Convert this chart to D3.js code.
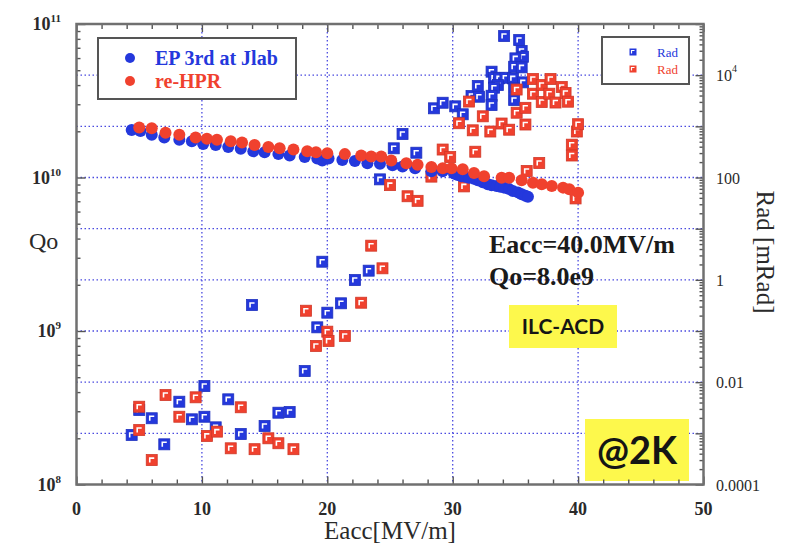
<!DOCTYPE html>
<html>
<head>
<meta charset="utf-8">
<script src="https://cdn.jsdelivr.net/npm/d3@7"></script>
<style>
body { margin: 0; background: #fff; }
svg { display: block; }
</style>
</head>
<body>
<svg width="789" height="545"></svg>
<script>
// Q0 vs Eacc, EP 3rd at Jlab (blue circles)
var epEacc = [4.4, 5.1, 6.0, 7.0, 8.2, 9.2, 10.1, 11.1, 12.1, 13.1, 14.1, 15.0, 16.1, 17.0, 18.2, 19.2, 19.6, 20.1, 21.2, 22.2,
  23.2, 24.2, 25.2, 26.0, 27.0, 28.3, 29.2, 30.1, 30.4, 30.7, 31.0, 31.3, 31.7, 32.0, 32.4, 32.8, 33.1, 33.5, 33.8, 34.1,
  34.5, 34.8, 35.2, 35.5, 35.8, 36.0];
var epQ = [2.04e10, 2.01e10, 1.90e10, 1.82e10, 1.76e10, 1.72e10, 1.65e10, 1.63e10, 1.58e10, 1.54e10, 1.48e10, 1.46e10, 1.42e10, 1.39e10, 1.36e10, 1.33e10, 1.29e10, 1.33e10, 1.30e10, 1.28e10,
  1.24e10, 1.23e10, 1.20e10, 1.18e10, 1.15e10, 1.10e10, 1.10e10, 1.06e10, 1.04e10, 1.02e10, 1.01e10, 9.96e9, 9.8e9, 9.58e9, 9.3e9, 9.03e9, 8.9e9, 8.81e9, 8.7e9, 8.59e9,
  8.4e9, 8.17e9, 8.0e9, 7.78e9, 7.6e9, 7.48e9];

// Q0 vs Eacc, re-HPR (red circles)
var hprEacc = [5.0, 6.0, 7.1, 8.2, 9.5, 10.4, 11.2, 12.3, 13.2, 14.2, 15.3, 16.2, 17.3, 18.4, 19.1, 20.0, 21.4, 22.7, 23.5, 24.3,
  25.1, 26.3, 27.2, 28.3, 29.2, 29.9, 30.8, 31.7, 32.5, 33.9, 34.5, 35.5, 36.4, 37.1, 37.9, 38.8, 39.3, 40.0];
var hprQ = [2.12e10, 2.09e10, 1.96e10, 1.90e10, 1.82e10, 1.79e10, 1.76e10, 1.72e10, 1.69e10, 1.63e10, 1.58e10, 1.55e10, 1.52e10, 1.48e10, 1.46e10, 1.44e10, 1.42e10, 1.39e10, 1.37e10, 1.37e10,
  1.29e10, 1.24e10, 1.21e10, 1.17e10, 1.15e10, 1.15e10, 1.13e10, 1.07e10, 1.02e10, 9.96e9, 9.96e9, 9.58e9, 9.24e9, 9.03e9, 8.81e9, 8.59e9, 8.38e9, 7.97e9];

// radiation, EP 3rd (blue squares)
var epRadEacc = [4.4, 5.0, 6.0, 7.0, 8.2, 9.2, 10.2, 10.2, 11.1, 12.1, 13.1, 14.0, 15.0, 16.1, 17.0, 18.2, 19.2, 19.6, 20.0, 21.1,
  22.2, 23.3, 24.2, 25.3, 26.0, 27.1, 28.5, 29.2, 30.2, 30.8, 31.5, 32.0, 32.1, 33.1, 33.3, 33.7, 34.2, 34.8, 35.6, 33.6,
  33.3, 33.1, 33.1, 34.9, 34.9, 34.1, 35.3, 35.5, 35.6, 35.0, 34.9, 35.5];
var epRad = [9.3e-4, 2.86e-3, 1.97e-3, 6.1e-4, 4.15e-3, 1.88e-3, 2.11e-3, 8.4e-3, 1.31e-3, 4.62e-3, 9.7e-4, 0.322, 1.39e-3, 2.53e-3, 2.61e-3, 0.0165, 0.118, 2.26, 0.228, 0.348,
  0.99, 1.51, 92, 372, 708, 305, 2250, 2890, 2460, 1720, 3910, 6140, 3790, 11700, 8900, 8670, 8900, 8670, 7240, 6420,
  5690, 3960, 2610, 3270, 5530, 58200, 48600, 29600, 22900, 21300, 14600, 14200];

// radiation, re-HPR (red squares)
var hprRadEacc = [5.0, 5.0, 6.0, 7.1, 8.2, 9.5, 10.4, 11.2, 12.3, 13.1, 14.2, 15.3, 16.1, 17.3, 18.3, 19.1, 20.0, 20.1, 21.4, 22.7,
  23.5, 24.4, 25.0, 26.4, 27.2, 28.3, 29.2, 29.8, 30.5, 30.9, 31.3, 31.6, 31.8, 32.4, 33.0, 33.9, 34.5, 35.1, 35.1, 35.8,
  35.8, 35.9, 36.4, 36.4, 36.9, 37.1, 37.1, 37.8, 37.7, 38.2, 38.7, 39.0, 39.2, 39.5, 39.5, 39.9, 40.0, 39.8];
var hprRad = [3.31e-3, 1.16e-3, 3.0e-4, 5.6e-3, 2.11e-3, 5.06e-3, 8.9e-4, 1.08e-3, 5.1e-4, 3.23e-3, 4.9e-4, 8.0e-4, 6.4e-4, 4.9e-4, 0.249, 0.051, 0.097, 0.064, 0.080, 0.357,
  4.65, 1.68, 71, 43, 35, 104, 352, 251, 1150, 67, 3050, 836, 319, 1570, 792, 1135, 859, 5240, 1845, 2300,
  1085, 134, 8410, 4340, 192, 6420, 2990, 8410, 4340, 2920, 5870, 4480, 3030, 438, 269, 792, 1100, 39];

var xTicks = [0, 10, 20, 30, 40, 50];
var qDecades = [1e8, 1e9, 1e10, 1e11];
var qLabels = [["10", "8"], ["10", "9"], ["10", "10"], ["10", "11"]];
var radLabelValues = [1e4, 100, 1, 0.01, 1e-4];
var radLabels = [["10", "4"], ["100", ""], ["1", ""], ["0.01", ""], ["0.0001", ""]];

var blue = "#2438dc", red = "#f0412e";
var serif = "'Liberation Serif', 'DejaVu Serif', serif";

var svg = d3.select("svg"),
    pL = 76.5, pR = 703.5, pT = 24, pB = 484.5;

var x = d3.scaleLinear().domain([0, 50]).range([pL, pR]);
var yQ = d3.scaleLog().domain([1e8, 1e11]).range([pB, pT]);
var yR = d3.scaleLog().domain([1e-4, 1e5]).range([pB, pT]);

svg.append("rect").attr("width", 789).attr("height", 545).attr("fill", "#fff");

// dotted grid
var grid = svg.append("g")
    .attr("stroke", "#4a4ae0")
    .attr("stroke-width", 1.3)
    .attr("stroke-dasharray", "1.5,2.5");
grid.selectAll("line.v").data([10, 20, 30, 40]).enter().append("line")
    .attr("x1", function(d) { return x(d); }).attr("x2", function(d) { return x(d); })
    .attr("y1", pT).attr("y2", pB);
grid.selectAll("line.h").data([1e-3, 1e-2, 1e-1, 1, 10, 100, 1e3, 1e4]).enter().append("line")
    .attr("y1", function(d) { return yR(d); }).attr("y2", function(d) { return yR(d); })
    .attr("x1", pL).attr("x2", pR);

// yellow labels
function yellowBox(bx, by, bw, bh, label, size, ty) {
  svg.append("rect").attr("x", bx).attr("y", by).attr("width", bw).attr("height", bh).attr("fill", "#fdf84c");
  svg.append("text").attr("x", bx + bw / 2).attr("y", ty)
      .attr("text-anchor", "middle")
      .attr("font-family", "Lato, 'Open Sans', sans-serif")
      .attr("font-weight", "bold")
      .attr("font-size", size)
      .attr("fill", "#151515")
      .text(label);
}
yellowBox(509, 305, 108, 43, "ILC-ACD", 21, 334);
yellowBox(585, 419, 104, 62, "@2K", 38, 464);

// squares with the little white mark
function squares(xs, ys, color) {
  var g = svg.append("g").selectAll("g")
    .data(xs.map(function(d, i) { return [d, ys[i]]; }))
    .enter().append("g")
      .attr("transform", function(d) { return "translate(" + x(d[0]) + "," + yR(d[1]) + ")"; });
  g.append("rect").attr("x", -5.5).attr("y", -5.5).attr("width", 11).attr("height", 11)
      .attr("fill", color).attr("stroke", d3.color(color).darker(0.4)).attr("stroke-width", 0.8);
  g.append("path").attr("d", "M-2,2.5V-2H2.5").attr("fill", "none").attr("stroke", "#fff").attr("stroke-width", 1.6);
}
squares(epRadEacc, epRad, blue);
squares(hprRadEacc, hprRad, red);

function dots(xs, ys, color) {
  svg.append("g").selectAll("circle")
    .data(xs.map(function(d, i) { return [d, ys[i]]; }))
    .enter().append("circle")
      .attr("cx", function(d) { return x(d[0]); })
      .attr("cy", function(d) { return yQ(d[1]); })
      .attr("r", 6)
      .attr("fill", color);
}
dots(epEacc, epQ, blue);
dots(hprEacc, hprQ, red);

// ticks, all pointing inward
function minorLog(lo, hi) {
  var out = [];
  for (var e = lo; e < hi; e++) for (var k = 2; k < 10; k++) out.push(k * Math.pow(10, e));
  return out;
}
var xMinor = d3.range(2, 50, 2).filter(function(d) { return d % 10 !== 0; });
var tickAxes = [
  [d3.axisBottom(x).tickValues(xTicks).tickSize(-8), "translate(0," + pB + ")"],
  [d3.axisBottom(x).tickValues(xMinor).tickSize(-5), "translate(0," + pB + ")"],
  [d3.axisTop(x).tickValues(xTicks).tickSize(-8), "translate(0," + pT + ")"],
  [d3.axisTop(x).tickValues(xMinor).tickSize(-5), "translate(0," + pT + ")"],
  [d3.axisLeft(yQ).tickValues(qDecades).tickSize(-9), "translate(" + pL + ",0)"],
  [d3.axisLeft(yQ).tickValues(minorLog(8, 11)).tickSize(-4), "translate(" + pL + ",0)"],
  [d3.axisRight(yR).tickValues(d3.range(-4, 6).map(function(e) { return Math.pow(10, e); })).tickSize(-8), "translate(" + pR + ",0)"],
  [d3.axisRight(yR).tickValues(minorLog(-4, 5)).tickSize(-4), "translate(" + pR + ",0)"]
];
tickAxes.forEach(function(a) {
  var g = svg.append("g").attr("transform", a[1]).call(a[0].tickFormat(""));
  g.select(".domain").remove();
  g.selectAll("line").attr("stroke", "#555").attr("stroke-width", 1.4);
});

svg.append("rect")
    .attr("x", pL).attr("y", pT)
    .attr("width", pR - pL).attr("height", pB - pT)
    .attr("fill", "none").attr("stroke", "#707070").attr("stroke-width", 2.5);

// left tick labels
qDecades.forEach(function(v, i) {
  var t = svg.append("text").attr("x", 61).attr("y", yQ(v) + 6)
      .attr("text-anchor", "end")
      .attr("font-family", serif).attr("font-weight", "bold").attr("fill", "#2a2a2a");
  t.append("tspan").attr("font-size", 18).text(qLabels[i][0]);
  t.append("tspan").attr("font-size", 11).attr("dy", -8).text(qLabels[i][1]);
});

// right tick labels
radLabelValues.forEach(function(v, i) {
  var t = svg.append("text").attr("x", 716).attr("y", yR(v) + 6)
      .attr("font-family", serif).attr("fill", "#2a2a2a");
  t.append("tspan").attr("font-size", 16).text(radLabels[i][0]);
  if (radLabels[i][1]) t.append("tspan").attr("font-size", 10).attr("dy", -9).text(radLabels[i][1]);
});

// bottom tick labels
svg.append("g").selectAll("text").data(xTicks).enter().append("text")
    .attr("x", function(d) { return x(d); })
    .attr("y", 515)
    .attr("text-anchor", "middle")
    .attr("font-family", serif).attr("font-weight", "bold").attr("font-size", 18)
    .attr("fill", "#2a2a2a")
    .text(function(d) { return d; });

svg.append("text").attr("x", 390).attr("y", 539)
    .attr("text-anchor", "middle")
    .attr("font-family", serif).attr("font-size", 25).attr("fill", "#2a2a2a")
    .text("Eacc[MV/m]");

svg.append("text").attr("x", 29).attr("y", 249)
    .attr("font-family", serif).attr("font-size", 24).attr("fill", "#2a2a2a")
    .text("Qo");

svg.append("text")
    .attr("transform", "translate(757,252) rotate(90)")
    .attr("text-anchor", "middle")
    .attr("font-family", serif).attr("font-size", 25).attr("fill", "#2a2a2a")
    .text("Rad [mRad]");

// Eacc / Qo annotation
svg.append("text").attr("x", 489).attr("y", 253)
    .attr("font-family", serif).attr("font-weight", "bold").attr("font-size", 26).attr("fill", "#1a1a1a")
    .text("Eacc=40.0MV/m");
svg.append("text").attr("x", 489).attr("y", 285)
    .attr("font-family", serif).attr("font-weight", "bold").attr("font-size", 26).attr("fill", "#1a1a1a")
    .text("Qo=8.0e9");

// legend for Qo
var leg = svg.append("g");
leg.append("rect").attr("x", 98).attr("y", 38).attr("width", 198).attr("height", 61)
    .attr("fill", "#fff").attr("stroke", "#555").attr("stroke-width", 2);
[["EP 3rd at Jlab", blue, 58], ["re-HPR", red, 81]].forEach(function(d) {
  leg.append("circle").attr("cx", 130).attr("cy", d[2]).attr("r", 5).attr("fill", d[1]);
  leg.append("text").attr("x", 155).attr("y", d[2] + 7)
      .attr("font-family", serif).attr("font-weight", "bold").attr("font-size", 20)
      .attr("fill", d[1]).text(d[0]);
});

// legend for Rad
var leg2 = svg.append("g");
leg2.append("rect").attr("x", 602).attr("y", 37).attr("width", 87).attr("height", 47)
    .attr("fill", "#fff").attr("stroke", "#555").attr("stroke-width", 2);
[[blue, 52], [red, 69]].forEach(function(d) {
  leg2.append("rect").attr("x", 629.5).attr("y", d[1] - 3.5).attr("width", 7).attr("height", 7).attr("fill", d[0]);
  leg2.append("path").attr("d", "M" + 631.5 + "," + (d[1] + 1.5) + "v-3h3")
      .attr("fill", "none").attr("stroke", "#fff").attr("stroke-width", 1.2);
  leg2.append("text").attr("x", 657).attr("y", d[1] + 5)
      .attr("font-family", serif).attr("font-size", 13)
      .attr("fill", d[0]).text("Rad");
});
</script>
</body>
</html>
